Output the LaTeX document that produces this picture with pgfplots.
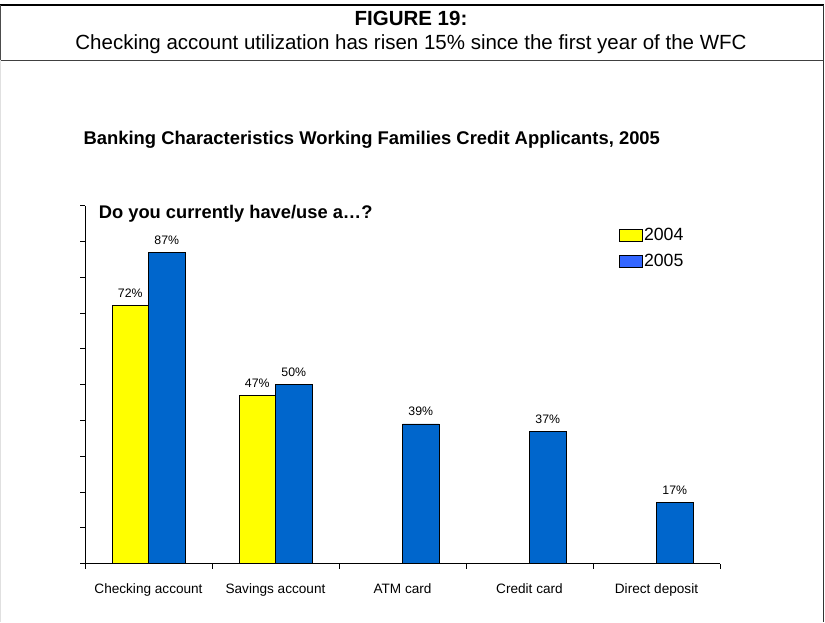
\documentclass[border=0pt]{standalone}
\usepackage{pgfplots}
\pgfplotsset{compat=1.18}
\usepackage{fontspec}
\setmainfont{Liberation Sans}
\definecolor{ylw}{RGB}{255,255,0}
\definecolor{barblue}{RGB}{0,102,204}
\definecolor{legblue}{RGB}{51,102,255}
\begin{document}
\begin{tikzpicture}[x=1pt,y=1pt]
\path[use as bounding box] (0,0) rectangle (825,622);
% frame
\draw[line width=2.2pt] (0,617) -- (823.5,617);
\draw[line width=0.8pt, black!75] (0,562) -- (823.5,562);
\draw[line width=0.8pt, black!80] (823,617) -- (823,0);
\draw[line width=0.8pt, black!70] (0.5,617) -- (0.5,562);
\draw[line width=0.8pt, black!12] (0.5,562) -- (0.5,0);
% captions
\node[font=\bfseries\fontsize{20.5}{24}\selectfont] at (411,604) {FIGURE 19:};
\node[font=\fontsize{20.5}{24}\selectfont] at (411,577.5) {Checking account utilization has risen 15\% since the first year of the WFC};
\node[font=\bfseries\fontsize{18.4}{22}\selectfont, anchor=west, inner sep=0pt] at (83.4,482) {Banking Characteristics Working Families Credit Applicants, 2005};
\node[font=\bfseries\fontsize{18.3}{22}\selectfont, anchor=west, inner sep=0pt] at (98.7,408) {Do you currently have/use a\dots?};
\begin{axis}[
  at={(85pt,58.5pt)}, anchor=south west,
  scale only axis, width=635pt, height=358pt,
  ybar, bar width=36.5pt,
  xmin=-0.5, xmax=4.5, ymin=0, ymax=100,
  axis x line*=bottom, axis y line*=left,
  axis line style={line width=0.8pt},
  xtick={0,1,2,3,4},
  xticklabels={Checking account,Savings account,ATM card,Credit card,Direct deposit},
  major x tick style={draw=none},
  minor xtick={-0.5,0.5,1.5,2.5,3.5,4.5},
  ytick={0,10,...,100}, yticklabels={},
  tick align=outside,
  major tick length=5pt, minor tick length=5pt,
  tick style={black, line width=0.8pt},
  xticklabel style={font=\fontsize{13.6}{16}\selectfont, anchor=base, yshift=-24.5pt},
  nodes near coords={\pgfmathprintnumber[assume math mode=true]{\pgfplotspointmeta}\%},
  every node near coord/.append style={font=\fontsize{12.3}{14}\selectfont, anchor=base, yshift=8pt},
  legend style={at={(0.841,0.94)}, anchor=north west, draw=none, fill=none,
    font=\fontsize{17.7}{20}\selectfont, inner sep=0pt, row sep=10pt,
    nodes={inner sep=1pt}},
  legend cell align=left,
  legend image code/.code={\draw[#1,line width=0.8pt] (0pt,-6pt) rectangle (23pt,6pt);},
]
\addplot[fill=ylw, draw=black, line width=0.6pt, bar shift=-18.25pt, forget plot] coordinates {(0,72) (1,47)};
\addplot[fill=barblue, draw=black, line width=0.6pt, bar shift=18.25pt, forget plot] coordinates {(0,87) (1,50) (2,39) (3,37) (4,17)};
\addlegendimage{fill=ylw,draw=black}
\addlegendentry{2004}
\addlegendimage{fill=legblue,draw=black}
\addlegendentry{2005}
\end{axis}
\end{tikzpicture}
\end{document}
